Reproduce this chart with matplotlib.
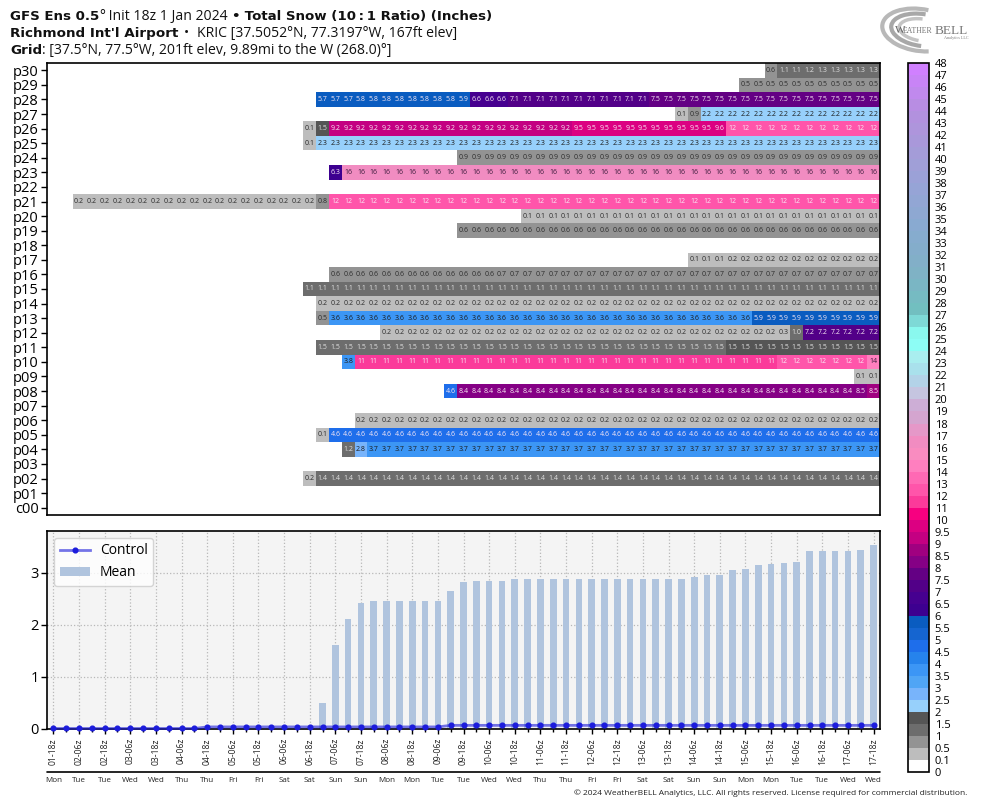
import matplotlib
matplotlib.use("Agg")
import matplotlib.pyplot as plt
import numpy as np
from matplotlib.colors import BoundaryNorm, ListedColormap, LinearSegmentedColormap, to_hex
from matplotlib.patches import Arc
from matplotlib.transforms import IdentityTransform

plt.rcParams['font.family'] = ['Open Sans', 'DejaVu Sans']

W, H = 984, 808
nan = float('nan')

# cumulative snow per member, one value per 6h step (65 steps)
c00 = [nan]*65
p01 = [nan]*65
p02 = [nan]*20 + [0.2] + [1.4]*44
p03 = [nan]*65
p04 = [nan]*23 + [1.2, 2.8] + [3.7]*40
p05 = [nan]*21 + [0.1] + [4.6]*43
p06 = [nan]*24 + [0.2]*41
p07 = [nan]*65
p08 = [nan]*31 + [4.6] + [8.4]*31 + [8.49, 8.5]
p09 = [nan]*63 + [0.1]*2
p10 = [nan]*23 + [3.8] + [11]*33 + [12]*7 + [14]
p11 = [nan]*21 + [1.49]*32 + [1.5]*12
p12 = [nan]*26 + [0.2]*31 + [0.3, 1.0] + [7.2]*6
p13 = [nan]*21 + [0.5] + [3.6]*33 + [5.9]*10
p14 = [nan]*21 + [0.2]*44
p15 = [nan]*20 + [1.1]*45
p16 = [nan]*22 + [0.6]*13 + [0.7]*30
p17 = [nan]*50 + [0.1]*3 + [0.2]*12
p18 = [nan]*65
p19 = [nan]*32 + [0.6]*33
p20 = [nan]*37 + [0.1]*28
p21 = [nan]*2 + [0.2]*19 + [0.8] + [12]*43
p22 = [nan]*65
p23 = [nan]*22 + [6.3] + [16]*42
p24 = [nan]*32 + [0.9]*33
p25 = [nan]*20 + [0.1] + [2.3]*44
p26 = [nan]*20 + [0.1, 1.5] + [9.2]*19 + [9.5]*11 + [9.6] + [12]*12
p27 = [nan]*49 + [0.1, 0.9] + [2.2]*14
p28 = [nan]*21 + [5.7]*3 + [5.8]*8 + [5.9] + [6.6]*3 + [7.1]*11 + [7.5]*18
p29 = [nan]*54 + [0.5]*11
p30 = [nan]*56 + [0.6, 1.1, 1.1, 1.2, 1.3, 1.3, 1.3, 1.3, 1.3]

members = [c00, p01, p02, p03, p04, p05, p06, p07, p08, p09, p10, p11, p12, p13, p14, p15,
           p16, p17, p18, p19, p20, p21, p22, p23, p24, p25, p26, p27, p28, p29, p30]
member_names = ['c00'] + ['p%02d' % i for i in range(1, 31)]

control = [0.01]*12 + [0.04]*19 + [0.07]*34
mean = [0.0]*21 + [0.5, 1.62, 2.12, 2.42, 2.46, 2.46, 2.46, 2.46, 2.46, 2.46, 2.64, 2.83,
                   2.85, 2.85, 2.85, 2.87, 2.87, 2.87, 2.87, 2.87, 2.87, 2.87, 2.87, 2.87, 2.87,
                   2.88, 2.88, 2.88, 2.88, 2.92, 2.96, 2.96, 3.06, 3.08, 3.15, 3.17, 3.19, 3.21,
                   3.42, 3.42, 3.42, 3.42, 3.44, 3.54]

date_labels = ['01-18z', '02-06z', '02-18z', '03-06z', '03-18z', '04-06z', '04-18z', '05-06z', '05-18z',
               '06-06z', '06-18z', '07-06z', '07-18z', '08-06z', '08-18z', '09-06z', '09-18z', '10-06z',
               '10-18z', '11-06z', '11-18z', '12-06z', '12-18z', '13-06z', '13-18z', '14-06z', '14-18z',
               '15-06z', '15-18z', '16-06z', '16-18z', '17-06z', '17-18z']
day_labels = ['Mon', 'Tue', 'Tue', 'Wed', 'Wed', 'Thu', 'Thu', 'Fri', 'Fri', 'Sat', 'Sat', 'Sun', 'Sun',
              'Mon', 'Mon', 'Tue', 'Tue', 'Wed', 'Wed', 'Thu', 'Thu', 'Fri', 'Fri', 'Sat', 'Sat', 'Sun',
              'Sun', 'Mon', 'Mon', 'Tue', 'Tue', 'Wed', 'Wed']

levels = [0, 0.1, 0.5, 1, 1.5, 2, 2.5, 3, 3.5, 4, 4.5, 5, 5.5, 6, 6.5, 7, 7.5, 8, 8.5, 9, 9.5, 10] + list(range(11, 49))
level_labels = ['%g' % v for v in levels]

low_colors = ['#ffffff', '#bdbdbd', '#939393', '#6d6d6d', '#555555', '#97d0fb', '#78b4fb', '#50a5f5',
              '#3c96f5', '#2683ec', '#1e6eeb', '#1565d0', '#0a5cc0', '#3d0090', '#460090', '#520088',
              '#640084', '#850085', '#a00080', '#c40082', '#dc0082', '#f70080', '#fb3a9a', '#ff55aa',
              '#ff69b4', '#ff7fbf', '#f98cc0', '#f18cc1', '#e598c8', '#d4a5cf', '#cdaed6', '#c5c5e0',
              '#b3d3e8', '#a9e1ec', '#a9eeef', '#8dfdf5', '#8af8ee', '#7ed9d6']
upper = LinearSegmentedColormap.from_list('upper', ['#72bfc0', '#80b0c6', '#88abd0', '#96a4d6', '#a69bd8',
                                                    '#b58fe0', '#d080ff'])
high_colors = [to_hex(upper(i / 20)) for i in range(21)]
cmap = ListedColormap(low_colors + high_colors)
norm = BoundaryNorm(levels, cmap.N)


def px_axes(left, top, right, bottom, **kw):
    return fig.add_axes([left / W, 1 - bottom / H, (right - left) / W, (bottom - top) / H], **kw)


def chain(x, y, parts):
    # header lines mix bold and regular text on one baseline
    for text, weight, family, size in parts:
        t = fig.text(x, H - y, text, fontsize=size, fontweight=weight, family=family,
                     transform=IdentityTransform(), va='baseline', ha='left', color='#111111')
        x = t.get_window_extent(renderer).x1


def text_color(v):
    if v < 1:
        return '#2c2c2c'
    if v < 2:
        return '#e0e0e0'
    if v < 4.5:
        return '#1c1c1c'
    if v < 13:
        return '#f8e8f4'
    return '#3c1c3c'


fig = plt.figure(figsize=(W / 100, H / 100), dpi=100)
renderer = fig.canvas.get_renderer()

# heat table
ax = px_axes(47, 63, 880, 515)
grid = np.array(members, dtype=float)
mesh = ax.pcolormesh(np.arange(66) - 0.5, np.arange(32) - 0.5, np.ma.masked_invalid(grid), cmap=cmap, norm=norm)
for r in range(grid.shape[0]):
    for c in range(grid.shape[1]):
        v = grid[r, c]
        if np.isnan(v):
            continue
        s = '%d' % v if v >= 10 else '%.1f' % v
        ax.text(c, r, s, ha='center', va='center', fontsize=5.0, color=text_color(v))
ax.set_xlim(-0.5, 64.5)
ax.set_ylim(-0.5, 30.5)
ax.set_xticks([])
ax.set_yticks(range(31))
ax.set_yticklabels(member_names, fontsize=10.5)
ax.tick_params(axis='y', length=4, width=1, pad=2)
for s in ax.spines.values():
    s.set_linewidth(1.2)

# colour bar
cax = px_axes(908, 63, 929, 772)
cb = fig.colorbar(mesh, cax=cax, spacing='uniform', ticks=levels)
cb.set_ticklabels(level_labels)
cb.ax.tick_params(length=0, labelsize=8, pad=4)
cb.ax.minorticks_off()
cb.outline.set_linewidth(1.2)

# control / mean panel
ax2 = px_axes(47, 531, 880, 729)
steps = np.arange(65)
ax2.set_facecolor('#f4f4f4')
ax2.bar(steps, mean, width=0.52, color='#b0c4de', label='Mean', zorder=2)
ax2.plot(steps, control, color=(0.1, 0.1, 0.85, 0.6), lw=2.0, marker='o', ms=3.4,
         mfc='#1c1cdc', mec='#1c1cdc', label='Control', zorder=3, clip_on=False)
ax2.set_xlim(-0.5, 64.5)
ax2.set_ylim(0, 3.8)
ax2.set_yticks([0, 1, 2, 3])
ax2.tick_params(axis='y', labelsize=10.5, length=4, width=1, pad=2)
ax2.set_xticks(steps[::2])
ax2.set_xticklabels(date_labels, rotation=90, fontsize=6.2, color='#222222')
ax2.set_xticks(steps[1::2], minor=True)
ax2.tick_params(axis='x', which='major', length=3.5, width=1, pad=3)
ax2.tick_params(axis='x', which='minor', length=2.5, width=1)
ax2.grid(True, color='#b8b8b8', ls=':', lw=0.9)
ax2.set_axisbelow(True)
for s in ax2.spines.values():
    s.set_linewidth(1.2)
ax2.legend(loc='upper left', fontsize=10, borderaxespad=0.5, handlelength=2.2, handletextpad=0.7)

# day names under a rule
ax2.annotate('', xy=(0, -43 / 198), xycoords='axes fraction', xytext=(1, -43 / 198),
             arrowprops=dict(arrowstyle='-', color='black', lw=1.2, shrinkA=0, shrinkB=0))
day_tr = ax2.get_xaxis_transform()
for x, d in zip(steps[::2], day_labels):
    ax2.text(x, -52 / 198, d, transform=day_tr, ha='center', va='center', fontsize=5.8, color='#222222')

# header
bold = 'DejaVu Sans'
reg = 'Open Sans'
chain(10, 20, [('GFS Ens 0.5', 'bold', bold, 9.6), ('°', 'normal', reg, 10), (' Init 18z 1 Jan 2024 ', 'normal', reg, 10.1),
               ('•', 'bold', bold, 9.6), (' Total Snow (10\u2009:\u20091 Ratio) (Inches)', 'bold', bold, 9.6)])
chain(10, 37, [("Richmond Int'l Airport", 'bold', bold, 9.7), (' \u2009•  ', 'normal', reg, 10.1),
               ('KRIC [37.5052°N, 77.3197°W, 167ft elev]', 'normal', reg, 10.1)])
chain(10, 54, [('Grid', 'bold', bold, 9.7), (': [37.5°N, 77.5°W, 201ft elev, 9.89mi to the W (268.0)°]', 'normal', reg, 10.1)])

fig.text(967 / W, 1 - 793 / H, '© 2024 WeatherBELL Analytics, LLC. All rights reserved. License required for commercial distribution.',
         ha='right', va='center', fontsize=6.0, color='#222222')

# logo
logo = px_axes(878, 5, 975, 56)
logo.set_xlim(878, 975)
logo.set_ylim(56, 5)
logo.axis('off')
logo.add_patch(Arc((920, 30), 76, 42, angle=8, theta1=60, theta2=285, color='#b8b8b8', lw=3))
logo.add_patch(Arc((922, 30), 62, 32, angle=8, theta1=85, theta2=275, color='#a8a8a8', lw=3))
logo.add_patch(Arc((922, 30), 46, 22, angle=8, theta1=100, theta2=265, color='#c4c4c4', lw=2.5))
logo.text(895, 30.5, 'W', family='Liberation Serif', fontsize=8, color='#666666', va='center', ha='left')
logo.text(903, 31, 'EATHER', family='Liberation Serif', fontsize=5.6, color='#777777', va='center', ha='left')
logo.text(935, 30.5, 'BELL', family='Liberation Serif', fontsize=9.5, color='#777777', va='center', ha='left')
logo.text(968, 37.5, 'Analytics LLC', family='Liberation Serif', fontsize=3, color='#777777', va='center', ha='right')

fig.savefig('out.png', dpi=100)
